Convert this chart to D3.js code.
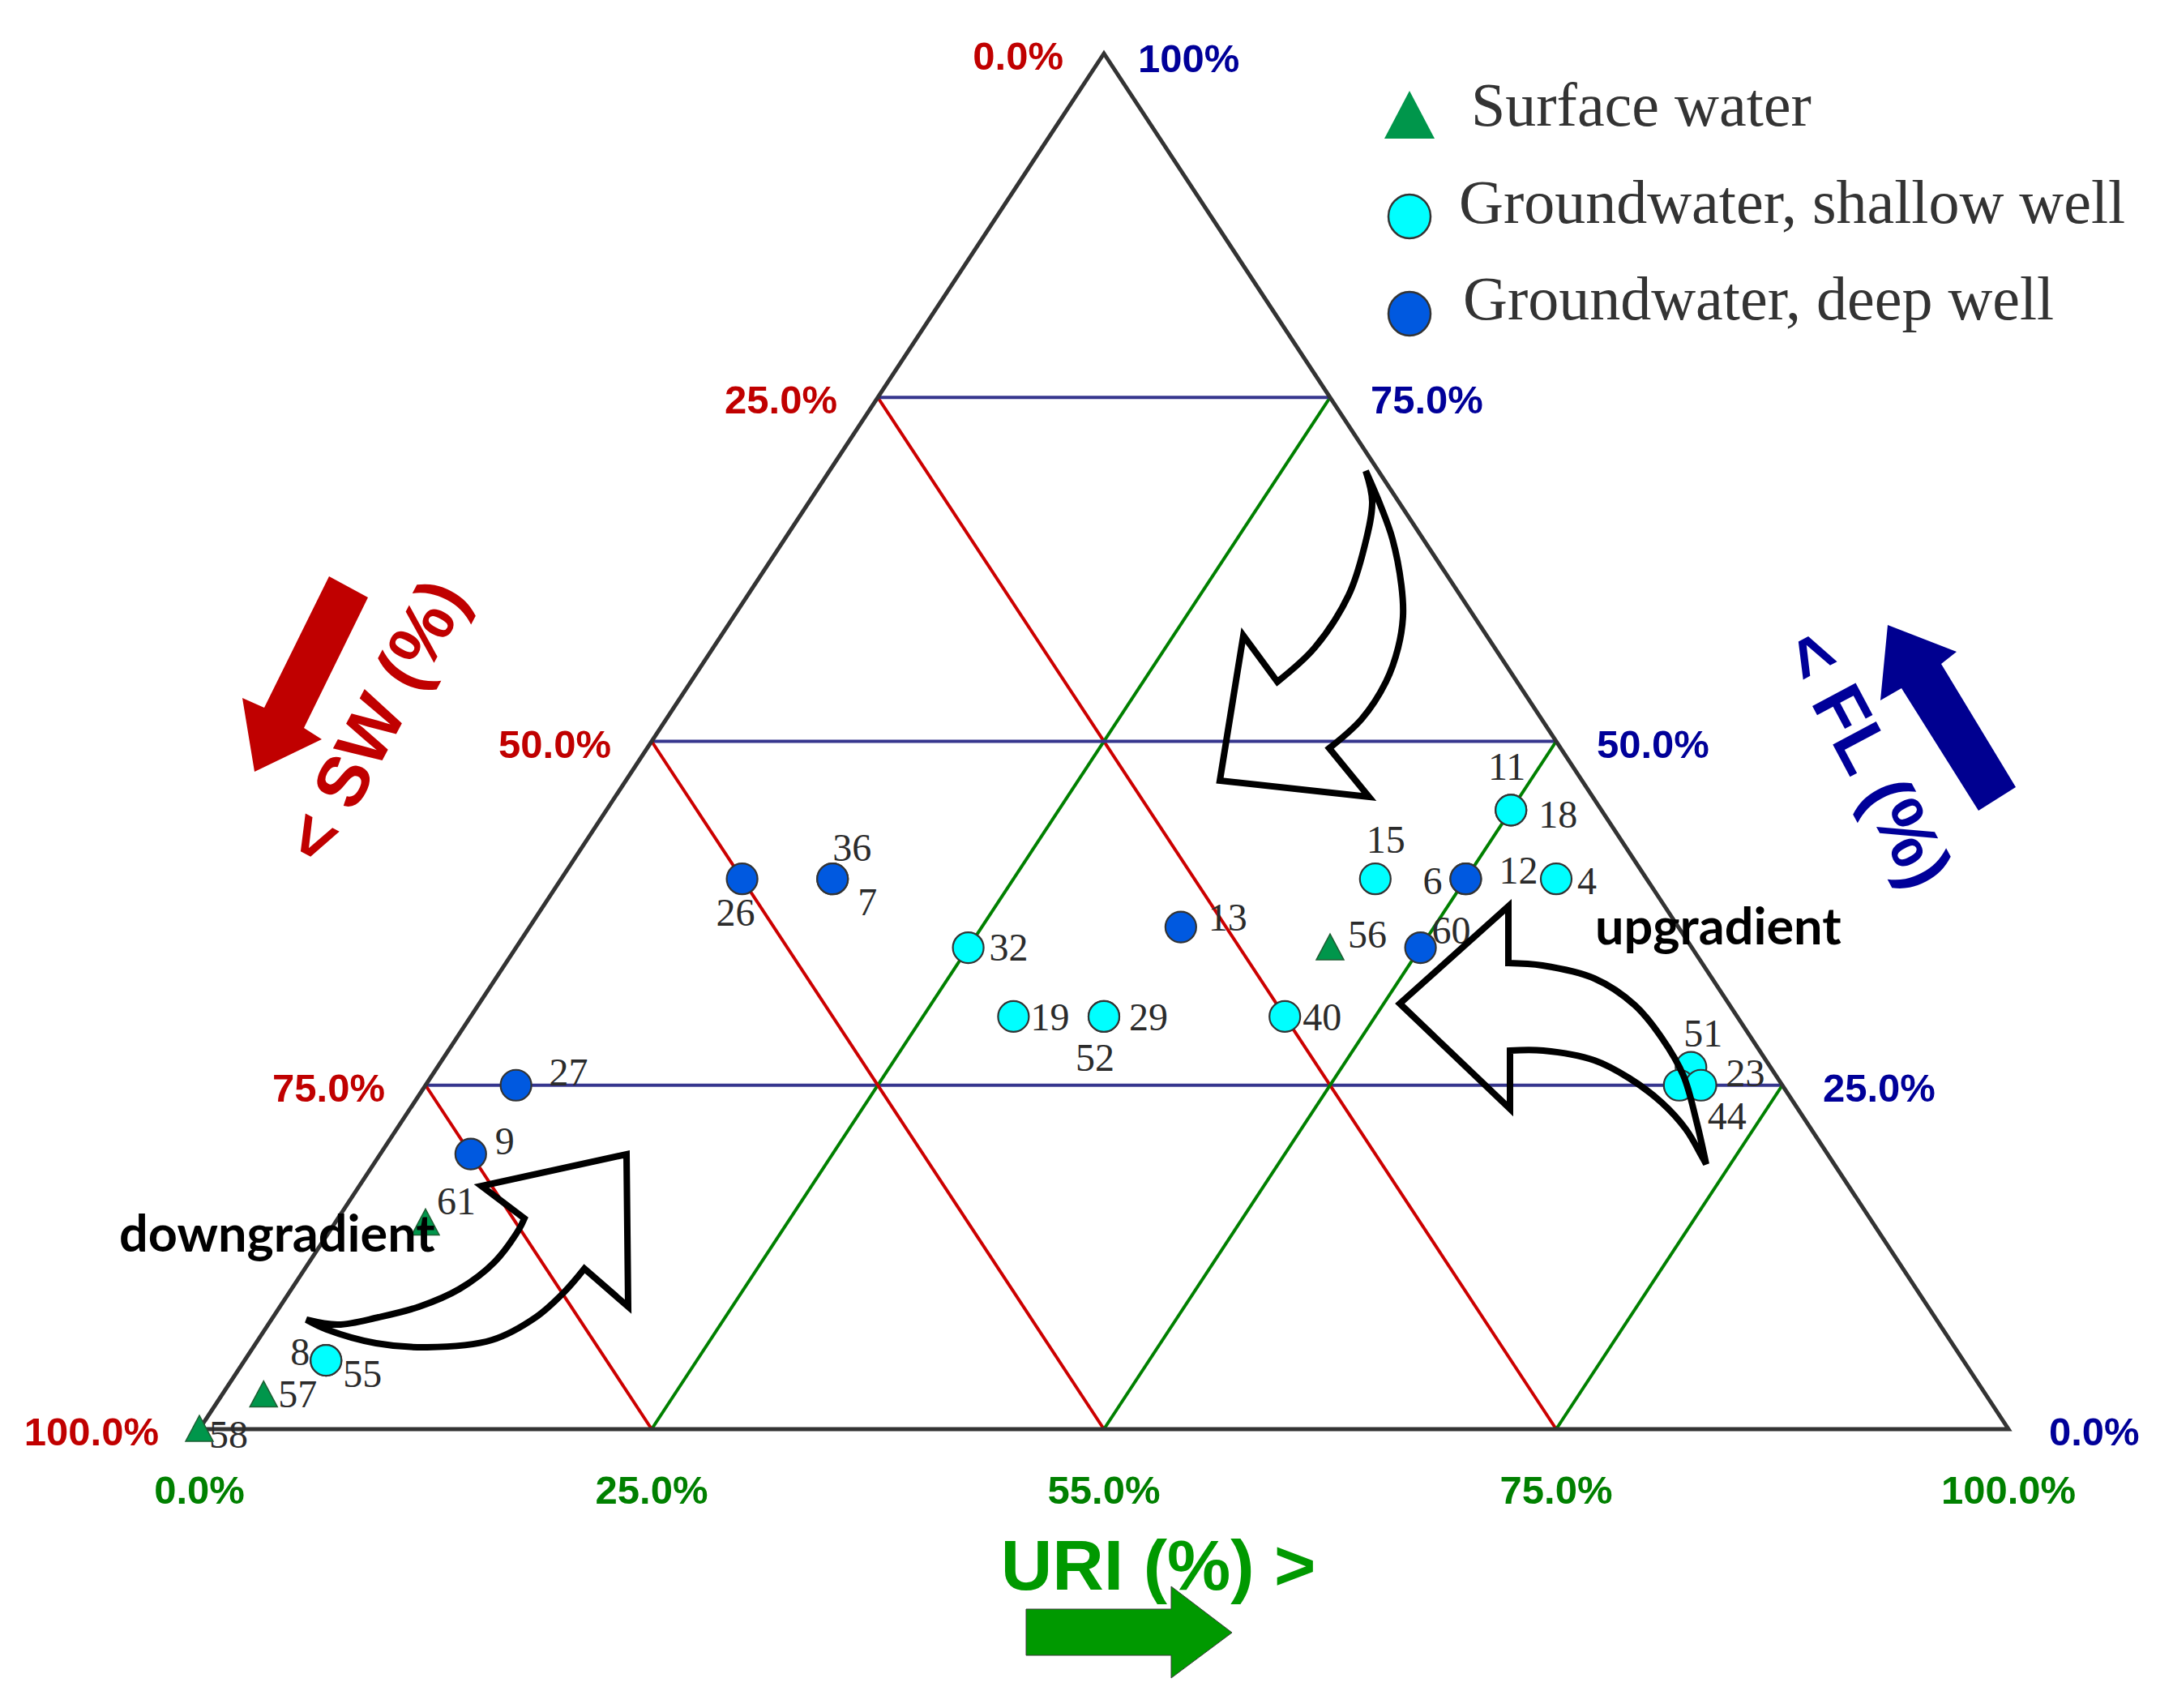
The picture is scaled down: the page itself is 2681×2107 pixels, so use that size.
<!DOCTYPE html>
<html>
<head>
<meta charset="utf-8">
<script src="https://cdn.jsdelivr.net/npm/d3@7"></script>
<style>
  body { margin: 0; background: #fff; }
  svg { display: block; background: #fff; }
</style>
</head>
<body>
<svg id="chart" width="2681" height="2107"></svg>
<script>
/// data (percent) ///
const sampleIds  = ["26","36","7","27","9","61","8","55","57","58","32","13","19","29","52","40","56","15","60","6","12","4","11","18","51","44","23"];
const sampleType = ["deep","deep","deep","deep","deep","surface","shallow","shallow","surface","surface",
                    "shallow","deep","shallow","shallow","shallow","shallow","surface","shallow","deep","deep",
                    "deep","shallow","shallow","shallow","shallow","shallow","shallow"];
const flValues   = [40, 40, 40, 25, 20, 15, 5, 5, 2.5, 0, 35, 36.5, 30, 30, 30, 30, 35, 40, 35, 40, 40, 40, 45, 45, 26.3, 25, 25];
const uriValues  = [10, 15, 15, 5, 5, 5, 4.5, 4.5, 2.3, 0, 25, 36, 30, 35, 35, 45, 45, 45, 50, 50, 50, 55, 50, 50, 69.3, 69.3, 70.5];
const swValues   = [50, 45, 45, 70, 75, 80, 90.5, 90.5, 95.2, 100, 40, 27.5, 40, 35, 35, 25, 20, 15, 15, 10, 10, 5, 5, 5, 4.4, 5.7, 4.5];

const gridValues = [25, 50, 75];
const tickValues = [0, 25, 50, 75, 100];
const uriTickLabels = ["0.0%", "25.0%", "55.0%", "75.0%", "100.0%"];
const swTickLabels  = ["0.0%", "25.0%", "50.0%", "75.0%", "100.0%"];
const flTickLabels  = ["0.0%", "25.0%", "50.0%", "75.0%", "100%"];

const legendTypes  = ["surface", "shallow", "deep"];
const legendLabels = ["Surface water", "Groundwater, shallow well", "Groundwater, deep well"];

/// label placement next to each marker: [dx, dy, anchor] ///
const labelOffset = {
  "26": [-8, 58, "middle"], "36": [24, -22, "middle"], "7": [43, 45, "middle"],
  "27": [41, 0, "start"], "9": [30, 0, "start"], "61": [14, -10, "start"],
  "8": [-20, 6, "end"], "55": [21, 33, "start"], "57": [18, 15, "start"], "58": [12, 23, "start"],
  "32": [26, 16, "start"], "13": [34, 4, "start"], "19": [21, 17, "start"], "29": [31, 17, "start"],
  "52": [-35, 67, "start"], "40": [22, 17, "start"], "56": [22, 0, "start"], "15": [13, -32, "middle"],
  "60": [14, -5, "start"], "6": [-29, 19, "end"], "12": [41, 6, "start"], "4": [26, 19, "start"],
  "11": [-5, -37, "middle"], "18": [34, 22, "start"], "51": [15, -26, "middle"], "44": [35, 54, "start"],
  "23": [31, 1, "start"]
};

const samples = sampleIds.map((id, i) => ({
  id: id, type: sampleType[i], fl: flValues[i], uri: uriValues[i], sw: swValues[i]
}));

const fillColor = { surface: "#00964B", shallow: "#00FFFF", deep: "#0059E0" };

/// scales: URI along the base, FL up to the apex ///
let uriScale = d3.scaleLinear().domain([0, 100]).range([246, 2478]);
let flScale  = d3.scaleLinear().domain([0, 100]).range([1763, 66]);

function pos(fl, uri) {
  return [uriScale(uri + fl / 2), flScale(fl)];
}

let svg = d3.select("#chart");
let chart = svg.append("g");

/// grid lines ///
const lineGen = d3.line();
gridValues.forEach(v => {
  // constant FL
  chart.append("path").attr("d", lineGen([pos(v, 0), pos(v, 100 - v)]))
    .attr("stroke", "#36368e").attr("stroke-width", 4).attr("fill", "none");
  // constant SW
  chart.append("path").attr("d", lineGen([pos(100 - v, 0), pos(0, 100 - v)]))
    .attr("stroke", "#CC0000").attr("stroke-width", 4).attr("fill", "none");
  // constant URI
  chart.append("path").attr("d", lineGen([pos(0, v), pos(100 - v, v)]))
    .attr("stroke", "#008000").attr("stroke-width", 4).attr("fill", "none");
});

/// triangle frame ///
chart.append("path")
  .attr("d", lineGen([pos(100, 0), pos(0, 0), pos(0, 100)]) + "Z")
  .attr("fill", "none")
  .attr("stroke", "#333")
  .attr("stroke-width", 5)
  .attr("stroke-linejoin", "miter");

/// tick labels ///
const tickFont = "'Liberation Sans', Arial, sans-serif";
tickValues.forEach((v, i) => {
  let b = pos(0, v);
  chart.append("text").attr("x", b[0]).attr("y", b[1] + 92)
    .attr("text-anchor", "middle").attr("fill", "#008000")
    .style("font", `bold 49px ${tickFont}`).text(uriTickLabels[i]);

  let l = pos(100 - v, 0);
  chart.append("text").attr("x", l[0] - 50).attr("y", l[1] + 20)
    .attr("text-anchor", "end").attr("fill", "#C00000")
    .style("font", `bold 49px ${tickFont}`).text(swTickLabels[i]);

  let r = pos(v, 100 - v);
  chart.append("text").attr("x", r[0] + (v === 100 ? 42 : 50)).attr("y", r[1] + (v === 100 ? 23 : 20))
    .attr("text-anchor", "start").attr("fill", "#000099")
    .style("font", `bold 49px ${tickFont}`).text(flTickLabels[i]);
});

/// points ///
const triPath = "M0,-17L17,15L-17,15Z";
let marks = chart.append("g");
samples.forEach(d => {
  let p = pos(d.fl, d.uri);
  if (d.type === "surface") {
    marks.append("path").attr("d", triPath)
      .attr("transform", `translate(${p[0]},${p[1]})`)
      .attr("fill", fillColor.surface).attr("stroke", "#1e5e33").attr("stroke-width", 1.5);
  } else {
    marks.append("circle").attr("cx", p[0]).attr("cy", p[1]).attr("r", 19)
      .attr("fill", fillColor[d.type]).attr("stroke", "#333").attr("stroke-width", 2.2);
  }
});

/// point labels ///
let labels = chart.append("g")
  .style("font", "48px 'Liberation Serif', 'Times New Roman', serif")
  .attr("fill", "#2b2b2b");
samples.forEach(d => {
  let p = pos(d.fl, d.uri);
  let o = labelOffset[d.id];
  labels.append("text").attr("x", p[0] + o[0]).attr("y", p[1] + o[1])
    .attr("text-anchor", o[2]).text(d.id);
});

/// hollow curved arrows ///
function curvedArrow(outer, head, inner) {
  const smooth = d3.line().curve(d3.curveCatmullRom.alpha(0.5));
  let o = smooth(outer);
  let h = head.map(p => "L" + p[0] + "," + p[1]).join("");
  let inn = smooth(inner).replace(/^M/, "L");
  return o + h + inn + "Z";
}

const curvedArrows = [
  // top: pointing down into the centre
  curvedArrow(
    [[1685,581],[1703,623],[1718,665],[1729,722],[1731,760],[1725,799],[1710,841],[1680,887],[1640,923]],
    [[1689,983],[1505,963],[1534,784],[1576,841]],
    [[1576,841],[1622,799],[1664,734],[1683,676],[1693,619],[1685,581]]
  ),
  // right: upgradient, pointing left
  curvedArrow(
    [[2105,1436],[2093,1383],[2077,1327],[2050,1280],[2017,1240],[1967,1207],[1903,1191],[1861,1188]],
    [[1861,1118],[1727,1238],[1863,1368],[1863,1296]],
    [[1863,1296],[1904,1296],[1967,1308],[2010,1330],[2050,1360],[2080,1393],[2100,1427],[2105,1436]]
  ),
  // bottom left: downgradient, pointing up
  curvedArrow(
    [[378,1628],[417,1634],[467,1625],[517,1612],[567,1590],[610,1557],[640,1517],[647,1503]],
    [[594,1463],[773,1424],[775,1612],[721,1565]],
    [[721,1565],[696,1594],[661,1625],[607,1653],[527,1662],[464,1657],[403,1640],[378,1628]]
  )
];
curvedArrows.forEach(d => {
  chart.append("path").attr("d", d)
    .attr("fill", "none").attr("stroke", "#000")
    .attr("stroke-width", 8).attr("stroke-linejoin", "miter");
});

/// annotations ///
const annoFont = "bold 63px Lato, 'Open Sans', sans-serif";
chart.append("text").attr("x", 1968).attr("y", 1165).style("font", annoFont).attr("fill", "#000").text("upgradient");
chart.append("text").attr("x", 147).attr("y", 1544).style("font", annoFont).attr("fill", "#000").text("downgradient");

/// axis titles with solid arrows ///
const titleFont = `bold 88px ${tickFont}`;
chart.append("text")
  .attr("transform", "translate(463,889) rotate(-62)")
  .attr("text-anchor", "middle").attr("dominant-baseline", "central")
  .attr("fill", "#C00000").style("font", titleFont).text("< SW (%)");
chart.append("path")
  .attr("d", lineGen([[406,711],[454,737],[375,898],[397,912],[314,952],[299,861],[326,873]]) + "Z")
  .attr("fill", "#C00000");

chart.append("text")
  .attr("transform", "translate(2305,936) rotate(62)")
  .attr("text-anchor", "middle").attr("dominant-baseline", "central")
  .attr("fill", "#000099").style("font", titleFont).text("< FL (%)");
chart.append("path")
  .attr("d", lineGen([[2329,771],[2414,804],[2395,819],[2487,971],[2441,1000],[2346,849],[2320,864]]) + "Z")
  .attr("fill", "#000090");

chart.append("text")
  .attr("x", 1429).attr("y", 1961).attr("text-anchor", "middle")
  .attr("fill", "#009900").style("font", titleFont).text("URI (%) >");
chart.append("path")
  .attr("d", lineGen([[1266,1985],[1445,1985],[1445,1957],[1520,2014],[1445,2070],[1445,2042],[1266,2042]]) + "Z")
  .attr("fill", "#009900").attr("stroke", "#3a3a3a").attr("stroke-width", 1);

/// legend ///
let legend = chart.append("g");
const legendY = [142, 267, 387];
const legendTextX = [1815, 1800, 1805];
const legendBase = [155, 275, 394];
legendTypes.forEach((t, i) => {
  if (t === "surface") {
    legend.append("path").attr("d", "M0,-30L31,29L-31,29Z")
      .attr("transform", `translate(1739,${legendY[i]})`)
      .attr("fill", fillColor.surface);
  } else {
    legend.append("ellipse").attr("cx", 1739).attr("cy", legendY[i]).attr("rx", 26).attr("ry", 27)
      .attr("fill", fillColor[t]).attr("stroke", "#333").attr("stroke-width", 2.5);
  }
  legend.append("text").attr("x", legendTextX[i]).attr("y", legendBase[i])
    .style("font", "76px 'Liberation Serif', 'Times New Roman', serif")
    .attr("fill", "#333").text(legendLabels[i]);
});
</script>
</body>
</html>
